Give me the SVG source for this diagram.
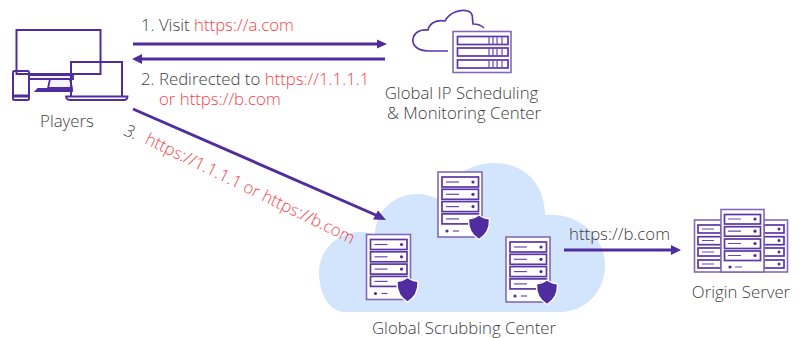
<svg xmlns="http://www.w3.org/2000/svg" width="801" height="338" viewBox="0 0 801 338">
<style>
text{font-family:"Open Sans","Noto Sans",sans-serif;font-size:16.800px;font-weight:300;fill:#404040}
.red{fill:#f83f49}
.ln{fill:none;stroke:#4f2d9f;stroke-width:2}
.lt{fill:#fff;stroke:#8268bb;stroke-width:1.6}
.conn{fill:none;stroke:#4f2d9f;stroke-width:3}
.ah{fill:#4f2d9f}
.thin{fill:none;stroke:#6a48b3;stroke-width:1.2}
.rw{fill:none;stroke:#5b36a8;stroke-width:1.7}
</style>
<defs>
<g id="row">
<rect class="rw" x="4" y="5" width="36.500" height="10"/><path class="thin" d="M8 10h13"/><circle class="ah" cx="35" cy="10" r="1.600"/>
</g>
<g id="srv">
<rect class="lt" x="0" y="0" width="44" height="65"/>
<use href="#row"/><use href="#row" y="12.300"/><use href="#row" y="24.600"/><use href="#row" y="36.900"/>
<circle class="ah" cx="9" cy="59" r="1.600"/><path class="thin" d="M15 59h6" stroke-width="1.500"/>
<path d="M41 43q5 3.500 9 3.500q1.500 0 1.500 1.500q0.500 13-10.500 19.500q-11-6.500-10.500-19.500q0-1.500 1.500-1.500q4 0 9-3.500z" fill="#4f2d9f" stroke="#fff" stroke-width="1.400"/>
</g>
</defs>
<g id="scrubbing-center">
<path d="M345 312C328 312 319 292 319 272C319 250 338 232 360 232C366 232 371 233 375 235C375 210 395 194 417 194C425 194 432 196 438 199C448 178 470 163 495 163C525 163 545 185 545 215C580 212 605 238 605 265C605 292 585 312 560 312Z" fill="#d3e4fd"/>
<use href="#srv" x="366.500" y="234.500"/>
<use href="#srv" x="438" y="172"/>
<use href="#srv" x="506" y="237"/>
<text x="464" y="334" text-anchor="middle">Global Scrubbing Center</text>
</g>
<g id="players">
<rect class="ln" x="16.500" y="30" width="84" height="44" fill="#fff"/>
<path d="M29 75h44v4H29zM50 79h20l2 9H48z" fill="#f4f2fa" stroke="#4f2d9f" stroke-width="1.800"/>
<path d="M36 91h36v-2H38z" fill="#fff" stroke="#4f2d9f" stroke-width="1.800"/>
<rect class="ln" x="13" y="71" width="16" height="29" rx="1.500" fill="#f8f7fc"/>
<path d="M13 96h16" stroke="#4f2d9f" stroke-width="3"/>
<rect class="ln" x="71" y="62" width="51" height="35.500" fill="#f8f7fc"/>
<path d="M66 96.500h61.500q0 3-3 3.500H70q-4-0.500-4-3.500z" fill="#fff" stroke="#4f2d9f" stroke-width="1.800"/>
<text x="67" y="127" text-anchor="middle">Players</text>
</g>
<g id="scheduling-center">
<path d="M448 51H429C416 51 411 44 413.500 37C415 32 421 29 428 30C429 24 436 19 445 21C449 13 459 9 468 11C474 13 472 19 473 24C478 24 482 26 484 28" fill="none" stroke="#5b36a8" stroke-width="1.700"/>
<rect class="lt" x="453" y="31.500" width="58" height="41"/>
<g class="rw" stroke-width="1.800"><rect x="457.500" y="36.500" width="50.500" height="8"/><rect x="457.500" y="48" width="50.500" height="8"/><rect x="457.500" y="60" width="50.500" height="8"/></g>
<path class="thin" d="M489 36.500v8M493 36.500v8M497 36.500v8M502 36.500v8M489 48v8M493 48v8M497 48v8M502 48v8M489 60v8M493 60v8M497 60v8M502 60v8"/>
<text x="461.500" y="99" text-anchor="middle">Global IP Scheduling</text>
<text x="464" y="119" text-anchor="middle">&amp; Monitoring Center</text>
</g>
<g id="origin-server">
<rect class="lt" x="694.500" y="220" width="93" height="52"/>
<g class="rw" stroke-width="1.500">
<rect x="698" y="225" width="23" height="8"/><rect x="698" y="236.700" width="23" height="8"/><rect x="698" y="248" width="23" height="8"/><rect x="698" y="260" width="23" height="8"/>
<rect x="764" y="225" width="20" height="8"/><rect x="764" y="236.700" width="20" height="8"/><rect x="764" y="248" width="20" height="8"/><rect x="764" y="260" width="20" height="8"/></g>
<path class="thin" d="M702 229h12M702 240.500h12M702 252h12M702 264h12"/>
<circle class="ah" cx="779" cy="229" r="1.500"/><circle class="ah" cx="779" cy="240.500" r="1.500"/><circle class="ah" cx="779" cy="252" r="1.500"/><circle class="ah" cx="779" cy="264" r="1.500"/>
<rect class="lt" x="721" y="209.500" width="43" height="62.500"/>
<g class="rw"><rect x="724.500" y="214.500" width="36" height="9.500"/><rect x="724.500" y="226.700" width="36" height="9.500"/><rect x="724.500" y="239" width="36" height="9.500"/><rect x="724.500" y="251" width="36" height="9.500"/></g>
<path class="thin" d="M728 219h13M728 231.200h13M728 243.500h13M728 255.500h13M735 267h7"/>
<circle class="ah" cx="755" cy="219" r="1.600"/><circle class="ah" cx="755" cy="231.200" r="1.600"/><circle class="ah" cx="755" cy="243.500" r="1.600"/><circle class="ah" cx="755" cy="255.500" r="1.600"/><circle class="ah" cx="730" cy="267" r="1.600"/>
<text x="741" y="298" text-anchor="middle">Origin Server</text>
</g>
<g id="connectors">
<path class="conn" d="M133 44H380M142 59H385M133 109L378 216M564 250H673"/>
<path class="ah" d="M387 44l-10-4.500v9zM132 59l10-5v10zM386 220l-13-0.500 5-9zM681 250l-10-5v10z"/>
</g>
<g id="labels">
<text x="141" y="31">1. Visit <tspan class="red">https://a.com</tspan></text>
<text x="141" y="84.500">2. Redirected to <tspan class="red">https://1.1.1.1</tspan></text>
<text class="red" x="159" y="105">or https://b.com</text>
<text transform="translate(123 135) rotate(20)" font-style="italic">3.</text>
<text class="red" transform="translate(144 143) rotate(26)">https://1.1.1.1 or https://b.com</text>
<text x="569" y="240">https://b.com</text>
</g>
</svg>
